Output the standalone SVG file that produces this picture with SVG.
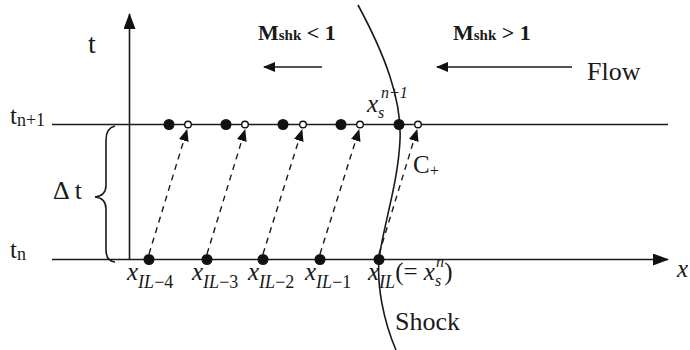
<svg xmlns="http://www.w3.org/2000/svg" width="690" height="350" viewBox="0 0 690 350">
<defs>
<style>
.ln{stroke:#1a1a1a;stroke-width:1.6;fill:none}
.dash{stroke:#1a1a1a;stroke-width:1.4;fill:none;stroke-dasharray:6 5}
.fd{fill:#111}
.od{fill:#fff;stroke:#111;stroke-width:1.4}
.tx{font-family:"Liberation Serif","Times New Roman",serif;fill:#1a1a1a;font-size:25px}
.it{font-style:italic}
.b{font-weight:bold;font-size:22px}
.sub{font-size:18px}
.sm{font-size:16px}
.up{font-style:normal}
</style>
<marker id="ah" viewBox="0 0 12 10" refX="11" refY="5" markerWidth="12" markerHeight="10" markerUnits="userSpaceOnUse" orient="auto">
<path d="M0,0 L12,5 L0,10 Z" fill="#111"/>
</marker>
<marker id="big" viewBox="0 0 16 12" refX="15" refY="6" markerWidth="16" markerHeight="12" markerUnits="userSpaceOnUse" orient="auto">
<path d="M0,0 L16,6 L0,12 Z" fill="#111"/>
</marker>
</defs>
<rect width="690" height="350" fill="#fff"/>

<g id="axes">
<line class="ln" x1="129.5" y1="260" x2="129.5" y2="14" marker-end="url(#big)"/>
<line class="ln" x1="52" y1="259.5" x2="668" y2="259.5" marker-end="url(#big)"/>
<line class="ln" x1="52" y1="124.5" x2="668" y2="124.5"/>
<path class="ln" d="M115,126 Q106,128 106,140 L106,185 Q106,196 95,197 Q106,198 106,209 L106,250 Q106,261 115,262"/>
</g>

<g id="shock">
<path class="ln" d="M358,5 C385,55 402,100 400,140 C398,185 382,230 379,260 C377,285 383,320 396,350"/>
</g>

<g id="connectors">
<line class="dash" x1="149" y1="254" x2="187" y2="130" marker-end="url(#ah)"/>
<line class="dash" x1="207" y1="254" x2="245" y2="130" marker-end="url(#ah)"/>
<line class="dash" x1="263" y1="254" x2="302" y2="130" marker-end="url(#ah)"/>
<line class="dash" x1="320" y1="254" x2="359" y2="130" marker-end="url(#ah)"/>
<line class="dash" x1="379" y1="254" x2="417" y2="130" marker-end="url(#ah)"/>
<line class="ln" x1="322" y1="67" x2="264" y2="67" marker-end="url(#ah)"/>
<line class="ln" x1="572" y1="67" x2="437" y2="67" marker-end="url(#ah)"/>
</g>

<g id="top-points">
<circle class="fd" cx="169" cy="124.5" r="5.5"/>
<circle class="fd" cx="226" cy="124.5" r="5.5"/>
<circle class="fd" cx="283" cy="124.5" r="5.5"/>
<circle class="fd" cx="341" cy="124.5" r="5.5"/>
<circle class="fd" cx="399" cy="124.5" r="5.5"/>
<circle class="od" cx="188" cy="124.5" r="3.3"/>
<circle class="od" cx="245" cy="124.5" r="3.3"/>
<circle class="od" cx="303" cy="124.5" r="3.3"/>
<circle class="od" cx="360" cy="124.5" r="3.3"/>
<circle class="od" cx="418" cy="124.5" r="3.3"/>
</g>

<g id="bottom-points">
<circle class="fd" cx="149" cy="259.5" r="5.5"/>
<circle class="fd" cx="207" cy="259.5" r="5.5"/>
<circle class="fd" cx="263" cy="259.5" r="5.5"/>
<circle class="fd" cx="320" cy="259.5" r="5.5"/>
<circle class="fd" cx="379" cy="259.5" r="5.5"/>
</g>

<g id="labels">
<text class="tx" x="88" y="53" style="font-size:28px">t</text>
<text class="tx" x="10" y="124">t<tspan class="sub" dy="2">n+1</tspan></text>
<text class="tx" x="10" y="258">t<tspan class="sub" dy="2">n</tspan></text>
<text class="tx" x="53" y="199" style="font-size:26px">Δ t</text>
<text class="tx b" x="258" y="40">M<tspan style="font-size:15px">shk</tspan> &lt; 1</text>
<text class="tx b" x="453" y="40">M<tspan style="font-size:15px">shk</tspan> &gt; 1</text>
<text class="tx" x="587" y="80" style="font-size:26px">Flow</text>
<text class="tx it" x="367" y="112">x<tspan class="sm" dy="6">s</tspan></text>
<text class="tx it sm" x="381" y="98">n+1</text>
<text class="tx" x="413" y="173">C<tspan style="font-size:16px" dy="3">+</tspan></text>
<text class="tx it" x="127" y="280">x<tspan class="sub" dy="8">IL</tspan><tspan class="sub up">−4</tspan></text>
<text class="tx it" x="192" y="280">x<tspan class="sub" dy="8">IL</tspan><tspan class="sub up">−3</tspan></text>
<text class="tx it" x="248" y="280">x<tspan class="sub" dy="8">IL</tspan><tspan class="sub up">−2</tspan></text>
<text class="tx it" x="305" y="280">x<tspan class="sub" dy="8">IL</tspan><tspan class="sub up">−1</tspan></text>
<text class="tx it" x="368" y="280">x<tspan class="sub" dy="8">IL</tspan><tspan class="up" dy="-8">(= </tspan>x<tspan class="sm" dy="6">s</tspan><tspan class="up" dy="-6" dx="3">)</tspan></text>
<text class="tx it sm" x="436" y="267">n</text>
<text class="tx" x="395" y="330" style="font-size:26px">Shock</text>
<text class="tx it" x="677" y="277">x</text>
</g>
</svg>
